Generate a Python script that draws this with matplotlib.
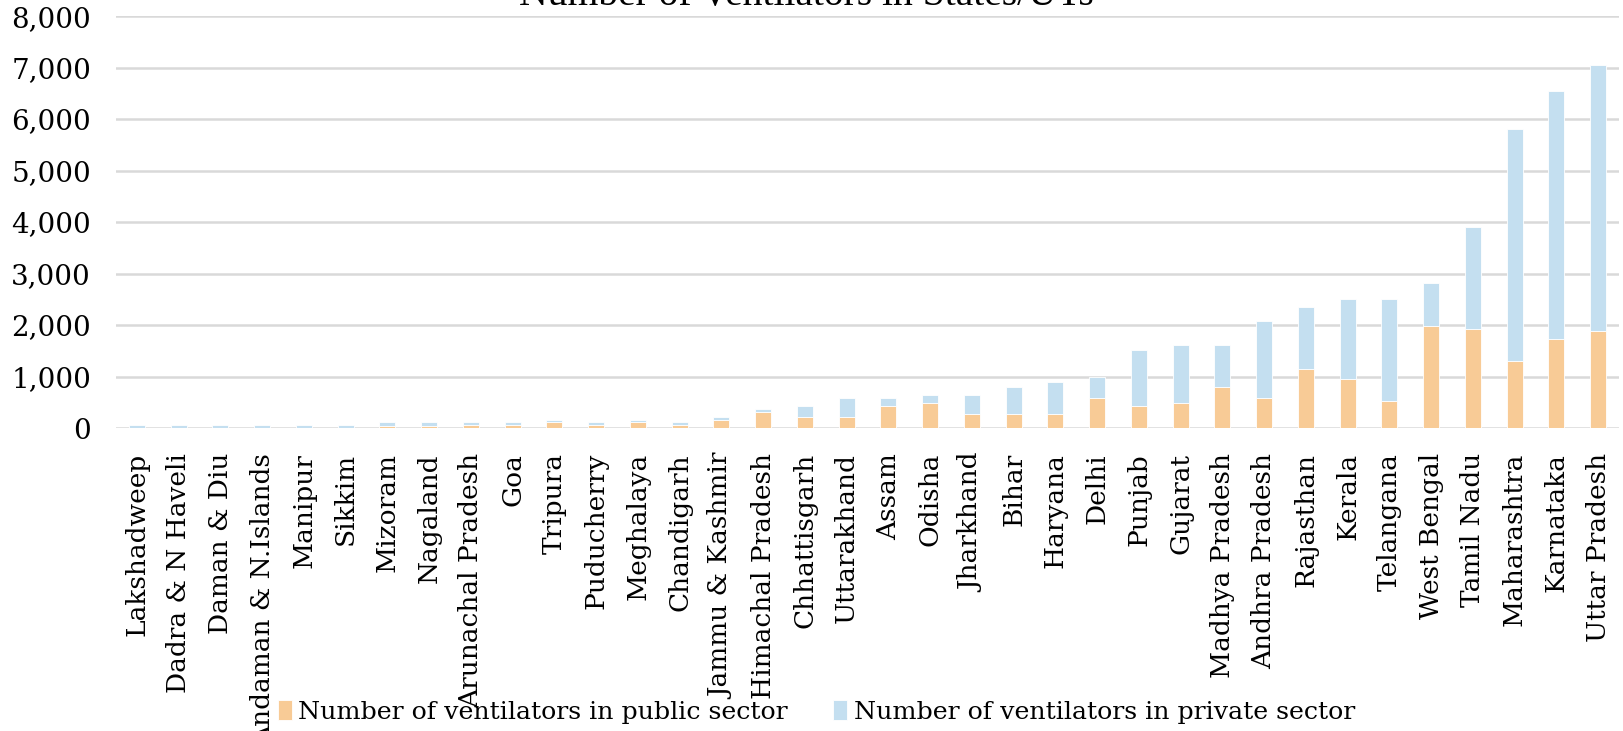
import matplotlib
matplotlib.use('Agg')
import matplotlib.pyplot as plt
import numpy as np

#*************************************************************************#
# data
states = ['Lakshadweep', 'Dadra & N Haveli', 'Daman & Diu', 'Andaman & N.Islands',
          'Manipur', 'Sikkim', 'Mizoram', 'Nagaland', 'Arunachal Pradesh', 'Goa',
          'Tripura', 'Puducherry', 'Meghalaya', 'Chandigarh', 'Jammu & Kashmir',
          'Himachal Pradesh', 'Chhattisgarh', 'Uttarakhand', 'Assam', 'Odisha',
          'Jharkhand', 'Bihar', 'Haryana', 'Delhi', 'Punjab', 'Gujarat',
          'Madhya Pradesh', 'Andhra Pradesh', 'Rajasthan', 'Kerala', 'Telangana',
          'West Bengal', 'Tamil Nadu', 'Maharashtra', 'Karnataka', 'Uttar Pradesh']
public = [0, 0, 0, 0, 0, 0, 40, 40, 60, 60,
          117, 60, 117, 60, 163, 311, 208, 220, 430, 480,
          272, 272, 272, 583, 427, 480, 790, 583, 1152, 945,
          531, 1980, 1928, 1307, 1722, 1877]
private = [66, 66, 66, 66, 66, 66, 70, 70, 50, 50,
           46, 50, 46, 50, 51, 58, 213, 360, 150, 155,
           363, 518, 621, 414, 1088, 1138, 828, 1501, 1191, 1553,
           1967, 829, 1969, 4505, 4815, 5178]
yticks = [0, 1000, 2000, 3000, 4000, 5000, 6000, 7000, 8000]

C_PUB = '#F8CB96'
C_PRV = '#C4DFF0'

#*************************************************************************#
fig = plt.figure(figsize=(16.23, 7.31), dpi=100)
ax = fig.add_axes([0.0715, 0.4145, 0.926, 0.5635])

x = np.arange(len(states))
ax.bar(x, public, width=0.38, color=C_PUB, edgecolor='white', linewidth=0.6,
       label='Number of ventilators in public sector', zorder=3)
ax.bar(x, private, width=0.38, bottom=public, color=C_PRV, edgecolor='white',
       linewidth=0.6, label='Number of ventilators in private sector', zorder=3)

ax.set_xlim(-0.5, len(states) - 0.5)
ax.set_ylim(0, 8000)
ax.set_yticks(yticks)
ax.set_yticklabels(['{:,}'.format(v) for v in yticks], fontfamily='DejaVu Serif', fontsize=20)
ax.set_xticks(x)
ax.set_xticklabels(states, rotation=90, fontfamily='DejaVu Serif', fontsize=19)
ax.tick_params(axis='both', length=0)
ax.tick_params(axis='y', pad=18)
ax.tick_params(axis='x', pad=18)

ax.yaxis.grid(True, color='#D9D9D9', linewidth=1.8, zorder=0)
ax.set_axisbelow(True)
for s in ax.spines.values():
    s.set_visible(False)

# title sits mostly above the picture, only its lower part shows
fig.text(0.497, 1 - 5 / 731, 'Number of Ventilators in States/UTs', ha='center', va='baseline',
         fontfamily='Liberation Serif', fontsize=28.5)

fig.legend(loc='center', bbox_to_anchor=(0.503, 1 - 712 / 731), ncol=2, frameon=False,
           prop={'family': 'DejaVu Serif', 'size': 18.2}, handlelength=0.55, handleheight=0.8,
           handletextpad=0.25, columnspacing=1.8, borderpad=0)

fig.savefig('out.png', dpi=100)
print("end")
